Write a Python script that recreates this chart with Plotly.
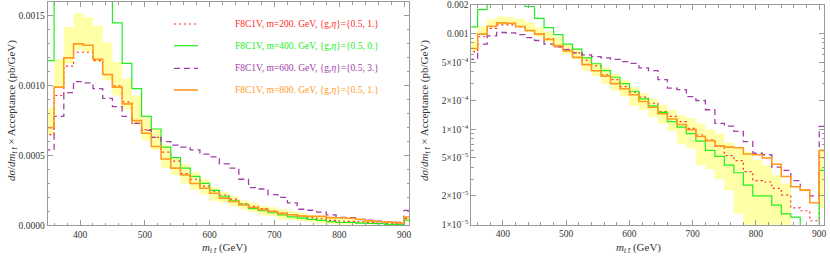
import plotly.graph_objects as go

# bin low edges (GeV), 15 GeV bins, plus final upper edge
bin_edges = [345, 360, 375, 390, 405, 420, 435, 450, 465, 480, 495, 510, 525, 540,
             555, 570, 585, 600, 615, 630, 645, 660, 675, 690, 705, 720, 735, 750,
             765, 780, 795, 810, 825, 840, 855, 870, 885, 900, 915]

m200 = [6.5e-4, 9.3e-4, 1.14e-3, 1.24e-3, 1.24e-3, 1.18e-3, 1.08e-3, 1.00e-3, 8.85e-4,
        7.3e-4, 6.85e-4, 6.3e-4, 5.25e-4, 4.6e-4, 3.7e-4, 3.3e-4, 2.8e-4, 2.45e-4,
        2.17e-4, 1.87e-4, 1.53e-4, 1.36e-4, 1.2e-4, 1.02e-4, 8.7e-5, 7.7e-5, 6.6e-5,
        5.3e-5, 4.7e-5, 3.6e-5, 2.9e-5, 2.8e-5, 2.4e-5, 2.05e-5, 1.5e-5, 1.4e-5,
        1.1e-5, 5.0e-5]
m400 = [1.18e-3, 1.79e-3, 2.4e-3, 2.8e-3, 2.9e-3, 2.6e-3, 1.93e-3, 1.45e-3, 1.16e-3,
        9.8e-4, 7.8e-4, 6.9e-4, 5.6e-4, 4.85e-4, 4.1e-4, 3.5e-4, 3.0e-4, 2.5e-4,
        2.08e-4, 1.76e-4, 1.5e-4, 1.2e-4, 1.05e-4, 9.0e-5, 7.5e-5, 6.0e-5, 5.2e-5,
        4.2e-5, 3.5e-5, 2.6e-5, 2.0e-5, 2.0e-5, 1.6e-5, 1.3e-5, 1.2e-5, 6.0e-6,
        5.0e-6, 3.7e-5]
m600 = [5.4e-4, 7.8e-4, 9.5e-4, 1.03e-3, 1.02e-3, 9.8e-4, 9.1e-4, 8.5e-4, 7.8e-4,
        7.3e-4, 6.8e-4, 6.3e-4, 6.0e-4, 5.75e-4, 5.6e-4, 5.4e-4, 5.1e-4, 4.9e-4,
        4.4e-4, 4.1e-4, 3.3e-4, 2.7e-4, 2.6e-4, 2.2e-4, 2.0e-4, 1.6e-4, 1.15e-4,
        1.08e-4, 9.5e-5, 7.4e-5, 5.6e-5, 5.4e-5, 4.0e-5, 3.7e-5, 2.9e-5, 2.3e-5,
        2.0e-5, 1.07e-4]
m800 = [7.0e-4, 9.9e-4, 1.20e-3, 1.30e-3, 1.29e-3, 1.19e-3, 1.08e-3, 9.9e-4, 8.7e-4,
        7.5e-4, 6.6e-4, 5.65e-4, 4.75e-4, 4.1e-4, 3.6e-4, 3.0e-4, 2.65e-4, 2.3e-4,
        1.95e-4, 1.7e-4, 1.45e-4, 1.28e-4, 1.12e-4, 9.9e-5, 8.4e-5, 7.6e-5, 6.7e-5,
        6.5e-5, 6.4e-5, 5.5e-5, 5.4e-5, 5.0e-5, 4.3e-5, 3.2e-5, 2.5e-5, 2.3e-5,
        1.7e-5, 6.0e-5]
band_lo = [6.5e-4, 9.9e-4, 1.16e-3, 1.26e-3, 1.24e-3, 1.17e-3, 1.04e-3, 9.3e-4, 8.3e-4,
           7.2e-4, 6.1e-4, 5.4e-4, 4.1e-4, 3.6e-4, 3.0e-4, 2.55e-4, 2.2e-4, 1.75e-4,
           1.6e-4, 1.35e-4, 1.15e-4, 9.5e-5, 7.0e-5, 6.3e-5, 4.2e-5, 3.8e-5, 3.0e-5,
           2.3e-5, 1.3e-5, 8.0e-6, 6.0e-6, 5.0e-6, 5.0e-6, 5.0e-6, None, None, None,
           1.5e-5]
band_hi = [8.4e-4, 1.19e-3, 1.42e-3, 1.52e-3, 1.49e-3, 1.43e-3, 1.31e-3, 1.17e-3, 1.05e-3,
           9.3e-4, 7.7e-4, 6.9e-4, 5.75e-4, 4.9e-4, 4.4e-4, 3.8e-4, 3.3e-4, 2.75e-4,
           2.4e-4, 2.1e-4, 1.8e-4, 1.6e-4, 1.4e-4, 1.3e-4, 1.15e-4, 1.0e-4, 9.0e-5,
           7.2e-5, 6.4e-5, 5.8e-5, 4.8e-5, 4.2e-5, 3.3e-5, 2.7e-5, None, None, None,
           5.9e-5]

series = [
    ("F8C1V, m=200. GeV, {g,<i>η</i>}={0.5, 1.}", m200, "#ff2a2a", "2px,3px", 1.2),
    ("F8C1V, m=400. GeV, {g,<i>η</i>}={0.5, 0.}", m400, "#22ee22", "solid", 1.2),
    ("F8C1V, m=600. GeV, {g,<i>η</i>}={0.5, 3.}", m600, "#a040a8", "6px,4px", 1.3),
    ("F8C1V, m=800. GeV, {g,<i>η</i>}={0.5, 1.}", m800, "#ff9a1e", "solid", 1.6),
]

W, H = 830, 259
FONT = "Liberation Serif"
BAND = "rgba(255,255,120,0.65)"
FRAME = "#9a9a9a"

fig = go.Figure()


def step_xy(vals, edges):
    return list(edges), list(vals) + [vals[-1]]


def add_band(xa, ya):
    runs, cur = [], []
    for i, (lo, hi) in enumerate(zip(band_lo, band_hi)):
        if lo is None:
            if cur:
                runs.append(cur)
                cur = []
        else:
            cur.append(i)
    if cur:
        runs.append(cur)
    for r in runs:
        xs = [bin_edges[i] for i in r] + [bin_edges[r[-1] + 1]]
        lo = [band_lo[i] for i in r] + [band_lo[r[-1]]]
        hi = [band_hi[i] for i in r] + [band_hi[r[-1]]]
        fig.add_trace(go.Scatter(x=xs, y=lo, mode="lines", line=dict(width=0, shape="hv"),
                                 xaxis=xa, yaxis=ya, showlegend=False, hoverinfo="skip"))
        fig.add_trace(go.Scatter(x=xs, y=hi, mode="lines", line=dict(width=0, shape="hv"),
                                 fill="tonexty", fillcolor=BAND,
                                 xaxis=xa, yaxis=ya, showlegend=False, hoverinfo="skip"))


for xa, ya in (("x", "y"), ("x2", "y2")):
    add_band(xa, ya)
    for name, vals, col, dash, w in series:
        xs, ys = step_xy(vals, bin_edges)
        fig.add_trace(go.Scatter(x=xs, y=ys, mode="lines",
                                 line=dict(color=col, width=w, dash=dash, shape="hv"),
                                 xaxis=xa, yaxis=ya, showlegend=False, name=name))

# geometry (pixels)
L1, R1, T1, B1 = 47.6, 409.3, 2.0, 225.3
L2, R2, T2, B2 = 471.3, 824.3, 5.0, 224.7

tickfont = dict(family=FONT, size=9.5, color="#333333")
common_x = dict(range=[350, 908], tickvals=[400, 500, 600, 700, 800, 900],
                ticks="inside", ticklen=5, tickcolor=FRAME, showline=True, linecolor=FRAME,
                linewidth=1, mirror="allticks", showgrid=False, zeroline=False,
                tickfont=tickfont, automargin=False,
                minor=dict(dtick=20, tick0=0, ticks="inside", ticklen=2.5, tickcolor=FRAME,
                           showgrid=False))

log_major = [0.002, 0.001, 5e-4, 2e-4, 1e-4, 5e-5, 2e-5, 1e-5]
log_major_txt = ["0.002", "0.001", "5×10<sup>−4</sup>", "2×10<sup>−4</sup>",
                 "1×10<sup>−4</sup>", "5×10<sup>−5</sup>", "2×10<sup>−5</sup>",
                 "1×10<sup>−5</sup>"]
log_minor = [3e-5, 4e-5, 6e-5, 7e-5, 8e-5, 9e-5, 3e-4, 4e-4, 6e-4, 7e-4, 8e-4, 9e-4]

fig.update_layout(
    width=W, height=H, margin=dict(l=0, r=0, t=0, b=0),
    paper_bgcolor="white", plot_bgcolor="white", showlegend=False,
    font=dict(family=FONT, size=9, color="#333333"),
    xaxis=dict(domain=[L1 / W, R1 / W], anchor="y", **common_x),
    yaxis=dict(domain=[1 - B1 / H, 1 - T1 / H], anchor="x", range=[0, 0.0016],
               tickvals=[0, 0.0005, 0.0010, 0.0015],
               ticktext=["0.0000", "0.0005", "0.0010", "0.0015"],
               ticks="inside", ticklen=5, tickcolor=FRAME, showline=True, linecolor=FRAME,
               linewidth=1, mirror="allticks", showgrid=False, zeroline=False,
               tickfont=tickfont, automargin=False,
               minor=dict(dtick=0.0001, tick0=0, ticks="inside", ticklen=2.5,
                          tickcolor=FRAME, showgrid=False)),
    xaxis2=dict(domain=[L2 / W, R2 / W], anchor="y2", **common_x),
    yaxis2=dict(domain=[1 - B2 / H, 1 - T2 / H], anchor="x2", type="log",
                range=[-5, -2.69897], tickvals=log_major, ticktext=log_major_txt,
                ticks="inside", ticklen=5, tickcolor=FRAME, showline=True, linecolor=FRAME,
                linewidth=1, mirror="allticks", showgrid=False, zeroline=False,
                tickfont=tickfont, automargin=False,
                minor=dict(tickvals=log_minor, ticks="inside", ticklen=2.5,
                           tickcolor=FRAME, showgrid=False)),
)

# legend (inside left panel)
rows = [24.0, 45.7, 68.3, 90.0]
for (name, vals, col, dash, w), ry in zip(series, rows):
    fig.add_shape(type="line", xref="paper", yref="paper",
                  x0=174 / W, x1=198 / W, y0=1 - ry / H, y1=1 - ry / H,
                  line=dict(color=col, width=w, dash=dash))
    fig.add_annotation(xref="paper", yref="paper", x=233 / W, y=1 - ry / H,
                       text=name, showarrow=False, xanchor="left", yanchor="middle",
                       font=dict(family=FONT, size=9.5, color=col))

ytitle = "<i>dσ</i>/<i>dm</i><sub><i>t t̄</i></sub> × Acceptance (pb/GeV)"
xtitle = "<i>m</i><sub><i>t t̄</i></sub> (GeV)"
for cx, cy in ((12, 111), (425, 111)):
    fig.add_annotation(xref="paper", yref="paper", x=cx / W, y=1 - cy / H, text=ytitle,
                       textangle=-90, showarrow=False, xanchor="center", yanchor="middle",
                       font=dict(family=FONT, size=11, color="#333333"))
for cx in (224, 638):
    fig.add_annotation(xref="paper", yref="paper", x=cx / W, y=1 - 248 / H, text=xtitle,
                       showarrow=False, xanchor="center", yanchor="middle",
                       font=dict(family=FONT, size=11, color="#333333"))

fig.write_html("out.html", config={"displayModeBar": False},
               post_script="document.body.style.margin='0px';"
                           "document.body.style.overflow='hidden';")
